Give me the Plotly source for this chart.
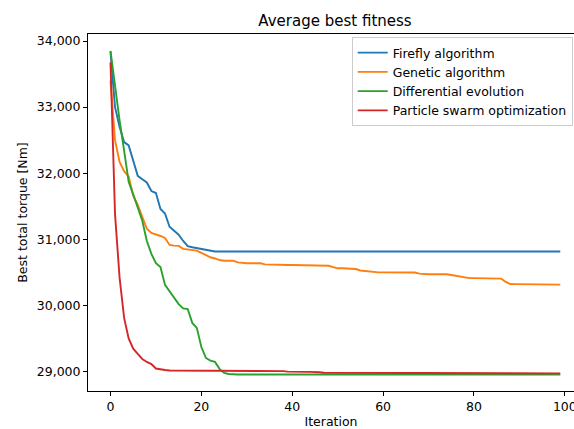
import plotly.graph_objects as go

iterations = list(range(100))

firefly = [
    33840, 33000, 32700, 32470, 32420, 32200, 31960, 31910, 31860, 31730,
    31700, 31460, 31390, 31190, 31130, 31070, 30975, 30895, 30880, 30866,
    30852, 30836, 30818, 30815, 30815, 30815, 30815, 30815, 30815, 30815,
    30815, 30815, 30815, 30815, 30815, 30815, 30815, 30815, 30815, 30815,
    30815, 30815, 30815, 30815, 30815, 30815, 30815, 30815, 30815, 30815,
    30815, 30815, 30815, 30815, 30815, 30815, 30815, 30815, 30815, 30815,
    30815, 30815, 30815, 30815, 30815, 30815, 30815, 30815, 30815, 30815,
    30815, 30815, 30815, 30815, 30815, 30815, 30815, 30815, 30815, 30815,
    30815, 30815, 30815, 30815, 30815, 30815, 30815, 30815, 30815, 30815,
    30815, 30815, 30815, 30815, 30815, 30815, 30815, 30815, 30815, 30815,
]

genetic = [
    33400, 32500, 32170, 32030, 31950, 31660, 31520, 31340, 31160, 31095,
    31075, 31050, 31020, 30915, 30905, 30900, 30855, 30845, 30838, 30828,
    30795, 30762, 30728, 30710, 30686, 30676, 30676, 30676, 30650, 30641,
    30637, 30637, 30637, 30637, 30621, 30618, 30611, 30611, 30611, 30611,
    30611, 30611, 30611, 30611, 30611, 30608, 30600, 30600, 30600, 30580,
    30561, 30561, 30561, 30561, 30550, 30528, 30520, 30510, 30500, 30500,
    30500, 30500, 30500, 30500, 30500, 30500, 30500, 30497, 30480, 30472,
    30472, 30472, 30472, 30472, 30472, 30460, 30449, 30430, 30419, 30413,
    30413, 30413, 30413, 30413, 30413, 30413, 30405, 30355, 30323, 30322,
    30322, 30322, 30322, 30322, 30315, 30315, 30315, 30315, 30315, 30315,
]

differential = [
    33850, 33280, 32800, 32340, 31870, 31680, 31490, 31280, 30975, 30780,
    30640, 30580, 30310, 30215, 30125, 30020, 29955, 29945, 29735, 29660,
    29370, 29205, 29165, 29145, 29040, 28978, 28962, 28955, 28955, 28955,
    28955, 28955, 28955, 28955, 28955, 28955, 28955, 28955, 28955, 28955,
    28955, 28955, 28955, 28955, 28955, 28955, 28955, 28955, 28955, 28955,
    28955, 28955, 28955, 28955, 28955, 28955, 28955, 28955, 28955, 28955,
    28955, 28955, 28955, 28955, 28955, 28955, 28955, 28955, 28955, 28955,
    28955, 28955, 28955, 28955, 28955, 28955, 28955, 28955, 28955, 28955,
    28955, 28955, 28955, 28955, 28955, 28955, 28955, 28955, 28955, 28955,
    28955, 28955, 28955, 28955, 28955, 28955, 28955, 28955, 28955, 28955,
]

pso = [
    33680, 31380, 30420, 29810, 29500, 29345, 29265, 29190, 29145, 29112,
    29045, 29030, 29022, 29015, 29015, 29015, 29015, 29005, 29005, 29005,
    29005, 29005, 29005, 29005, 29005, 29005, 29005, 29005, 29005, 29005,
    29005, 29005, 29005, 29005, 29005, 29005, 29005, 29005, 29005, 28998,
    28995, 28995, 28995, 28995, 28995, 28995, 28988, 28981, 28981, 28981,
    28981, 28981, 28981, 28981, 28981, 28981, 28981, 28981, 28981, 28981,
    28981, 28981, 28981, 28981, 28981, 28981, 28981, 28981, 28981, 28981,
    28981, 28981, 28981, 28981, 28981, 28981, 28981, 28981, 28981, 28981,
    28981, 28981, 28981, 28981, 28981, 28981, 28981, 28981, 28977, 28972,
    28972, 28972, 28972, 28972, 28972, 28972, 28972, 28972, 28972, 28972,
]

series_names = ["Firefly algorithm", "Genetic algorithm",
                "Differential evolution", "Particle swarm optimization"]
series_values = [firefly, genetic, differential, pso]
series_colors = ["#1f77b4", "#ff7f0e", "#2ca02c", "#d62728"]

x_ticks = [0, 20, 40, 60, 80, 100]
y_ticks = [29000, 30000, 31000, 32000, 33000, 34000]

FONT = "DejaVu Sans"

fig = go.Figure()
for i, (name, vals, col) in enumerate(zip(series_names, series_values, series_colors)):
    fig.add_trace(go.Scatter(
        x=iterations, y=vals, mode="lines", name=name,
        line=dict(color=col, width=1.9),
        legendgroup=f"g{i}",
    ))

axis_common = dict(
    showline=True, linecolor="black", linewidth=1,
    ticks="outside", ticklen=4, tickwidth=1, tickcolor="black",
    showgrid=False, zeroline=False, automargin=False,
    tickfont=dict(family=FONT, size=12.5, color="black"),
)

fig.update_layout(
    width=574, height=429,
    margin=dict(l=88, r=0, t=34, b=38),
    paper_bgcolor="white", plot_bgcolor="white",
    font=dict(family=FONT, size=12.5, color="black"),
    title=dict(text="Average best fitness", x=335 / 574, xanchor="center",
               xref="container", y=1 - 21 / 429, yref="container", yanchor="middle",
               font=dict(family=FONT, size=15, color="black")),
    xaxis=dict(range=[-4.95, 102.02], tickvals=x_ticks, mirror=True,
               ticklabeloverflow="allow",
               title=dict(text="Iteration", standoff=14,
                          font=dict(family=FONT, size=12.5, color="black")),
               **axis_common),
    yaxis=dict(range=[28705, 34106], tickvals=y_ticks, tickformat=",d", mirror=False,
               title=dict(text="Best total torque [Nm]", standoff=6,
                          font=dict(family=FONT, size=12.5, color="black")),
               **axis_common),
    legend=dict(x=(351.7 - 88) / 486, y=1 - (37 - 34) / 357, xanchor="left", yanchor="top",
                bgcolor="rgba(255,255,255,0.8)", bordercolor="#cccccc", borderwidth=1,
                font=dict(family=FONT, size=12.5, color="black"),
                traceorder="grouped", tracegroupgap=0),
    showlegend=True,
)

fig.write_html("out.html")
